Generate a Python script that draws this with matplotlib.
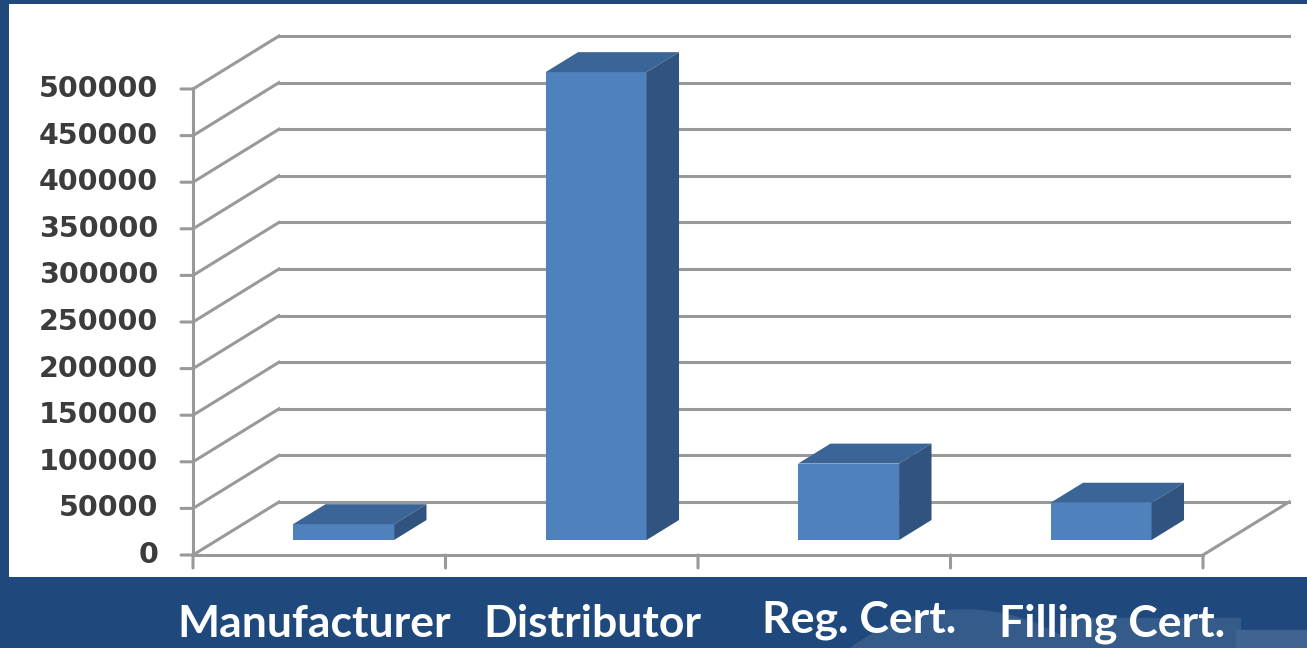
import numpy as np
import matplotlib
matplotlib.use("Agg")
import matplotlib.pyplot as plt
from matplotlib.patches import Polygon, Circle, Rectangle
from matplotlib.transforms import blended_transform_factory, IdentityTransform

# data
categories = ['Manufacturer', 'Distributor', 'Reg. Cert.', 'Filling Cert.']
values = [17000, 502000, 82000, 40000]
y_ticks = np.arange(0, 500001, 50000)

# colours
BG = '#1F487C'
FRONT = '#4F81BD'
TOP = '#3C6597'
SIDE = '#31537F'
GRID = '#999999'
LW = 2.2

W, H, DPI = 1307, 648, 100
fig = plt.figure(figsize=(W / DPI, H / DPI), dpi=DPI, facecolor=BG)

# slide decoration at the bottom right (pixel coords)
fig.patches.append(Circle((965, H - 800), 190, transform=IdentityTransform(),
                          color='#355B8B', zorder=-2))
fig.patches.append(Rectangle((1060, 0), 180, H - 618, transform=IdentityTransform(),
                             color='#355B8B', zorder=-2))
fig.patches.append(Rectangle((1236, 0), 80, H - 630, transform=IdentityTransform(),
                             color='#406391', zorder=-2))

# white plot panel, laid out so that 1 category = 252.5 px
px_x = 252.5
px_y = 466 / 500000
ax = fig.add_axes([9 / W, (H - 577) / H, (W - 9) / W, (577 - 4) / H], zorder=1)
ax.set_facecolor('white')
ax.set_xlim(-0.5 - (193 - 9) / px_x, -0.5 + (W - 193) / px_x)
ax.set_ylim(-(577 - 555) / px_y, (555 - 4) / px_y)
ax.set_xticks([])
ax.set_yticks([])
for s in ax.spines.values():
    s.set_visible(False)

# oblique depth of the floor
DX = 86 / px_x
DY = 53 / px_y
n = len(categories)
x_left, x_right = -0.5, n - 0.5

# back wall + side wall grid lines
for v in y_ticks:
    ax.plot([x_left + DX, x_right + DX], [v + DY, v + DY], color=GRID, lw=LW, zorder=1)
    ax.plot([x_left, x_left + DX], [v, v + DY], color=GRID, lw=LW, zorder=1)
    ax.annotate(f'{v}', (x_left, v), xytext=(-35, 0), textcoords='offset pixels',
                ha='right', va='center', fontsize=20.5, fontweight='semibold',
                color='#3c3c3c', family='DejaVu Sans')
    ax.annotate('', (x_left, v), xytext=(-12, 0), textcoords='offset pixels',
                arrowprops=dict(arrowstyle='-', color=GRID, lw=LW, shrinkA=0, shrinkB=0))

# floor and front axis
ax.plot([x_left, x_right], [0, 0], color=GRID, lw=LW, zorder=1)
ax.plot([x_right, x_right + DX], [0, DY], color=GRID, lw=LW, zorder=1)
ax.plot([x_left, x_left], [0, y_ticks[-1]], color=GRID, lw=LW, zorder=1)
for i in range(n + 1):
    ax.annotate('', (i - 0.5, 0), xytext=(0, -13), textcoords='offset pixels',
                arrowprops=dict(arrowstyle='-', color=GRID, lw=LW, shrinkA=0, shrinkB=0))

# 3D-looking bars
t0, t1 = 0.283, 0.66
bw = 0.40
ddx, ddy = (t1 - t0) * DX, (t1 - t0) * DY
for i, v in enumerate(values):
    x0 = i - bw / 2 + t0 * DX
    x1 = x0 + bw
    b = t0 * DY
    t = v + b
    ax.add_patch(Polygon([(x0, b), (x1, b), (x1, t), (x0, t)], closed=True,
                         fc=FRONT, ec='none', zorder=3))
    ax.add_patch(Polygon([(x0, t), (x1, t), (x1 + ddx, t + ddy), (x0 + ddx, t + ddy)],
                         closed=True, fc=TOP, ec='none', zorder=3))
    ax.add_patch(Polygon([(x1, b), (x1 + ddx, b + ddy), (x1 + ddx, t + ddy), (x1, t)],
                         closed=True, fc=SIDE, ec='none', zorder=3))

# category labels on the blue strip
label_shift = [0.0, 0.1, 0.16, 0.16]
label_y = [624, 624, 620, 624]
tr = blended_transform_factory(ax.transData, fig.transFigure)
for i, name in enumerate(categories):
    ax.text(i - 0.02 + label_shift[i], 1 - label_y[i] / H, name, transform=tr,
            ha='center', va='center', color='white', fontsize=32,
            fontweight='bold', family='Lato', clip_on=False)

fig.savefig('out.png', dpi=DPI, facecolor=BG)
